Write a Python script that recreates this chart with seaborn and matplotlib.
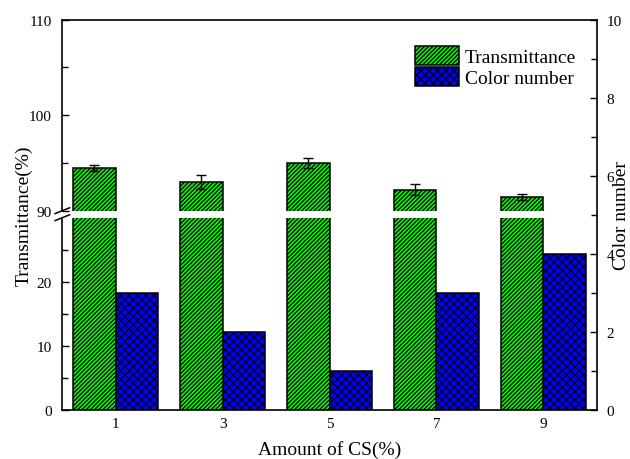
import matplotlib
matplotlib.use("Agg")
import matplotlib.pyplot as plt
from matplotlib.patches import Patch
from matplotlib.lines import Line2D
from matplotlib.ticker import FixedLocator
import pandas as pd
import seaborn as sns

# Data
cs_amount = [1, 3, 5, 7, 9]
transmittance = [94.5, 93.0, 95.0, 92.2, 91.4]
transmittance_err = [0.3, 0.7, 0.5, 0.6, 0.3]
color_number = [3, 2, 1, 3, 4]
series_names = ["Transmittance", "Color number"]
series_colors = ["#00FF00", "#0000FF"]
series_hatches = ["////////", "xxxx"]
hatch_widths = [0.95, 0.85]

sns.set_style("ticks", {"axes.edgecolor": "black", "xtick.color": "black",
                        "ytick.color": "black", "text.color": "black",
                        "axes.labelcolor": "black"})
plt.rcParams["font.family"] = ["Liberation Serif", "DejaVu Serif"]

df = pd.DataFrame({
    "cs": cs_amount * 2,
    "value": transmittance + color_number,
    "series": [series_names[0]] * len(cs_amount) + [series_names[1]] * len(cs_amount),
})
palette = dict(zip(series_names, series_colors))

W_PX, H_PX = 630, 460
fig = plt.figure(figsize=(W_PX / 100, H_PX / 100), dpi=100)

def rect(left, top, right, bottom):
    return [left / W_PX, 1 - bottom / H_PX, (right - left) / W_PX, (bottom - top) / H_PX]

x_left, x_right = 62.3, 596.7
axr = fig.add_axes(rect(x_left, 20.7, x_right, 410.7))      # color number, full height
ax_lo = fig.add_axes(rect(x_left, 218.7, x_right, 410.7))   # transmittance 0-30
ax_hi = fig.add_axes(rect(x_left, 20.7, x_right, 211.7))    # transmittance 90-110

bar_kw = dict(x="cs", y="value", hue="series", hue_order=series_names,
              palette=palette, native_scale=True, width=0.8, dodge=True,
              errorbar=None, saturation=1, edgecolor="black", linewidth=1.1,
              legend=False)

def draw(ax, idx):
    name = series_names[idx]
    hlw = hatch_widths[idx]
    with plt.rc_context({"hatch.linewidth": hlw}):
        sns.barplot(data=df[df["series"] == name], ax=ax,
                    hatch=series_hatches[idx], **bar_kw)
    for p in ax.patches:
        if hasattr(p, "set_hatch_linewidth"):
            p.set_hatch_linewidth(hlw)

draw(axr, 1)
draw(ax_lo, 0)
draw(ax_hi, 0)

# error bars on the upper transmittance bars
bars = sorted(ax_hi.patches, key=lambda p: p.get_x())
centers = [p.get_x() + p.get_width() / 2 for p in bars]
ax_hi.errorbar(centers, transmittance, yerr=transmittance_err, fmt="none",
               ecolor="black", elinewidth=1.0, capsize=3.3, capthick=1.0, zorder=5)

tick_font = 11
for ax in (axr, ax_lo, ax_hi):
    ax.set_xlim(0, 10)
    ax.set_xlabel("")
    ax.set_ylabel("")

# right axis (color number) + bottom axis
axr.set_ylim(0, 10)
axr.yaxis.tick_right()
axr.yaxis.set_major_locator(FixedLocator([0, 2, 4, 6, 8, 10]))
axr.yaxis.set_minor_locator(FixedLocator([1, 3, 5, 7, 9]))
axr.set_xticks(cs_amount)
axr.spines["left"].set_visible(False)
for s in ("top", "right", "bottom"):
    axr.spines[s].set_linewidth(1.2)
axr.tick_params(axis="y", which="both", direction="in", left=False, right=True,
                labelsize=tick_font, pad=7, width=1.0)
axr.tick_params(axis="y", which="major", length=5)
axr.tick_params(axis="y", which="minor", length=4)
axr.tick_params(axis="x", direction="in", length=4, width=1.0, labelsize=tick_font, pad=5)

# left broken axis
ax_lo.set_ylim(0, 30)
ax_lo.yaxis.set_major_locator(FixedLocator([0, 10, 20]))
ax_lo.yaxis.set_minor_locator(FixedLocator([5, 15, 25]))
ax_hi.set_ylim(90, 110)
ax_hi.yaxis.set_major_locator(FixedLocator([90, 100, 110]))
ax_hi.yaxis.set_minor_locator(FixedLocator([95, 105]))
for ax in (ax_lo, ax_hi):
    ax.patch.set_visible(False)
    for s in ("top", "right", "bottom"):
        ax.spines[s].set_visible(False)
    ax.spines["left"].set_linewidth(1.2)
    ax.set_xticks([])
    ax.tick_params(axis="y", which="both", direction="in", labelsize=tick_font,
                   pad=7.5, width=1.0)
    ax.tick_params(axis="y", which="major", length=5)
    ax.tick_params(axis="y", which="minor", length=4)

# break marks on the left spine
for py in (211.7, 218.7):
    fig.add_artist(Line2D([(x_left - 7.5) / W_PX, (x_left + 7.5) / W_PX],
                          [1 - (py + 3) / H_PX, 1 - (py - 3) / H_PX],
                          color="black", linewidth=1.1))

# axis labels
label_font = 14
axr.set_xlabel("Amount of CS(%)", fontsize=label_font)
axr.xaxis.set_label_coords(0.5, -0.078)
ax_lo.set_ylabel("Transmittance(%)", fontsize=label_font)
ax_lo.yaxis.set_label_coords((33 - x_left) / (x_right - x_left), (410.7 - 215.7) / 192)
axr.yaxis.set_label_position("right")
axr.set_ylabel("Color number", fontsize=label_font)
axr.yaxis.set_label_coords((613 - x_left) / (x_right - x_left), 0.5)

# legend
handles = []
for name, col, hat, hlw in zip(series_names, series_colors, series_hatches, hatch_widths):
    with plt.rc_context({"hatch.linewidth": hlw}):
        h = Patch(facecolor=col, edgecolor="black", hatch=hat, linewidth=1.1, label=name)
    if hasattr(h, "set_hatch_linewidth"):
        h.set_hatch_linewidth(hlw)
    handles.append(h)
axr.legend(handles=handles, loc="upper left",
           bbox_to_anchor=((415 - x_left) / (x_right - x_left), (410.7 - 46.7) / 390),
           frameon=False, fontsize=label_font, borderpad=0, borderaxespad=0,
           labelspacing=0.05, handlelength=2.27, handleheight=1.13, handletextpad=0.3)

fig.savefig("out.png", dpi=100)
